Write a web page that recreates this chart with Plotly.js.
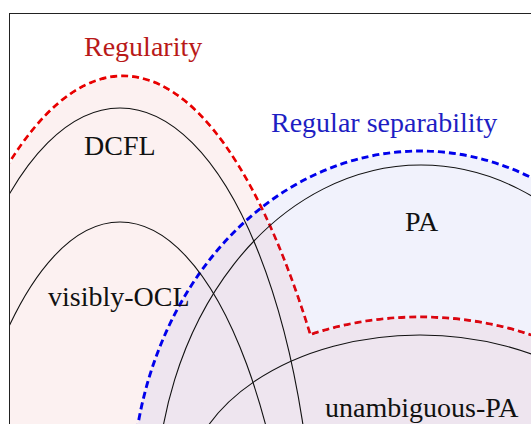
<!DOCTYPE html>
<html>
<head>
<meta charset="utf-8">
<script src="https://cdn.plot.ly/plotly-3.0.1.min.js"></script>
<style>html,body{margin:0;padding:0;background:#fff;}#chart{width:531px;height:424px;}</style>
</head>
<body>
<div id="chart"></div>
<script>
// Class ellipses (centre / radii, in diagram units = pixels of the drawing)
const classNames = ['DCFL', 'visibly-OCL', 'PA', 'unambiguous-PA'];
const classCx = [120, 120, 421, 420];
const classCy = [602, 707, 505, 495];
const classRx = [196, 179, 265, 235];
const classRy = [494, 485, 340, 160];

// Regularity region = union of two ellipses
const regularityCx = [123, 420];
const regularityCy = [1076, 495];
const regularityRx = [279, 253];
const regularityRy = [1000, 178];

// Regular separability region
const separabilityCx = [420];
const separabilityCy = [494];
const separabilityRx = [288];
const separabilityRy = [343];

// Labels
const labelTexts = ['Regularity', 'Regular separability', 'DCFL', 'visibly-OCL', 'PA', 'unambiguous-PA'];
const labelX = [143, 384, 120, 119, 422, 422];
const labelBaseline = [56, 132, 155, 306, 231, 417];
const labelColors = ['rgb(185,25,25)', 'rgb(30,30,195)', '#111', '#111', '#111', '#111'];

function ell(cx, cy, rx, ry, inset, extra) {
  return Object.assign({
    type: 'circle', xref: 'x', yref: 'y',
    x0: cx - rx + inset, x1: cx + rx - inset,
    y0: cy - ry + inset, y1: cy + ry - inset
  }, extra);
}

const shapes = [];
const pink = 'rgb(252,241,241)';
const dashPat = '7px,4px';
const dashW = 2.9;
// red dashed outlines
for (let i = 0; i < regularityCx.length; i++) {
  shapes.push(ell(regularityCx[i], regularityCy[i], regularityRx[i], regularityRy[i], 0,
    {fillcolor: 'rgba(0,0,0,0)', line: {color: 'rgb(232,0,0)', width: dashW, dash: dashPat}}));
}
// pink fills covering interior dashes
for (let i = 0; i < regularityCx.length; i++) {
  shapes.push(ell(regularityCx[i], regularityCy[i], regularityRx[i], regularityRy[i], 1.5,
    {fillcolor: pink, line: {width: 0}}));
}
// separability fill + outline
shapes.push(ell(separabilityCx[0], separabilityCy[0], separabilityRx[0], separabilityRy[0], 0,
  {fillcolor: 'rgba(80,93,218,0.08)', line: {width: 0}}));
shapes.push(ell(separabilityCx[0], separabilityCy[0], separabilityRx[0], separabilityRy[0], 0,
  {fillcolor: 'rgba(0,0,0,0)', line: {color: 'rgb(0,0,235)', width: dashW, dash: dashPat}}));
// class ellipses
for (let i = 0; i < classNames.length; i++) {
  shapes.push(ell(classCx[i], classCy[i], classRx[i], classRy[i], 0,
    {fillcolor: 'rgba(0,0,0,0)', line: {color: '#111', width: 1.1}}));
}

const fontSize = 28;
const annotations = labelTexts.map((t, i) => ({
  text: t, x: labelX[i], y: labelBaseline[i] - 0.3375 * fontSize,
  xref: 'x', yref: 'y', xanchor: 'center', yanchor: 'middle', showarrow: false,
  font: {family: 'Liberation Serif', size: fontSize, color: labelColors[i]}
}));

const layout = {
  width: 531, height: 424,
  margin: {l: 10, r: 0, t: 14, b: 0, pad: 0},
  paper_bgcolor: '#fff', plot_bgcolor: '#fff',
  showlegend: false,
  xaxis: {range: [10, 531], showgrid: false, zeroline: false, showticklabels: false, ticks: '',
          showline: true, side: 'top', linecolor: '#222', linewidth: 1, fixedrange: true},
  yaxis: {range: [424, 14], showgrid: false, zeroline: false, showticklabels: false, ticks: '',
          showline: true, linecolor: '#222', linewidth: 1, fixedrange: true},
  shapes: shapes,
  annotations: annotations
};

Plotly.newPlot('chart', [], layout, {displayModeBar: false, staticPlot: true});
</script>
</body>
</html>
